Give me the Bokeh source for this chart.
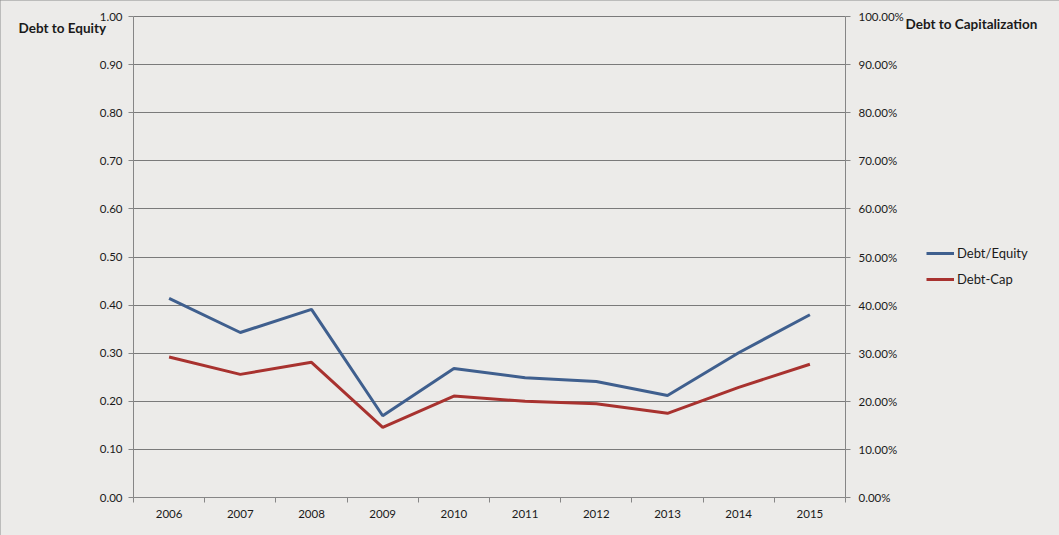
from bokeh.plotting import figure
from bokeh.models import (Range1d, LinearAxis, FixedTicker, NumeralTickFormatter,
                          Legend, LegendItem, Label)
from bokeh.embed import file_html
from bokeh.resources import INLINE

years = ["2006", "2007", "2008", "2009", "2010", "2011", "2012", "2013", "2014", "2015"]
debt_equity = [0.414, 0.343, 0.391, 0.170, 0.268, 0.249, 0.241, 0.212, 0.301, 0.380]
debt_cap = [0.292, 0.256, 0.281, 0.146, 0.211, 0.200, 0.195, 0.175, 0.229, 0.277]
left_ticks = [0.0, 0.1, 0.2, 0.3, 0.4, 0.5, 0.6, 0.7, 0.8, 0.9, 1.0]

BG = "#ECEBE9"
FONT = "Lato"
TXT = "#1a1a1a"
AX = "#868686"

W, H = 1059, 535
PLOT_L, PLOT_R = 133, 845          # pixel extent of the plotting area
PLOT_T, PLOT_B = 16, 497
n = len(years)
px_x = (PLOT_R - PLOT_L) / n
px_y = (PLOT_B - PLOT_T) / 1.0

xpos = [i + 0.5 for i in range(n)]
bounds = list(range(n + 1))

y_lo = -(H - PLOT_B) / px_y
y_hi = 1 + PLOT_T / px_y

p = figure(width=W, height=H,
           x_range=Range1d(-PLOT_L / px_x, n + (W - PLOT_R) / px_x),
           y_range=Range1d(y_lo, y_hi),
           output_backend="svg", toolbar_location=None,
           min_border_left=0, min_border_right=0, min_border_top=0, min_border_bottom=0,
           background_fill_color=BG, border_fill_color=BG)
p.outline_line_color = None
p.styles = {"outline": "2px solid #8c8c8c", "outline-offset": "-2px"}

# x axis
xa = p.xaxis[0]
xa.fixed_location = 0
xa.bounds = (0, n)
xa.ticker = FixedTicker(ticks=xpos, minor_ticks=bounds)
xa.major_label_overrides = {x: y for x, y in zip(xpos, years)}
xa.major_tick_out = 0
xa.major_tick_in = 0
xa.minor_tick_out = 5
xa.minor_tick_in = 0
xa.minor_tick_line_color = AX
xa.axis_line_color = AX
xa.major_label_standoff = 7
xa.major_label_text_font = FONT
xa.major_label_text_font_size = "11.5px"
xa.major_label_text_color = TXT
p.xgrid.grid_line_color = None

# left axis
ya = p.yaxis[0]
ya.fixed_location = 0
ya.bounds = (0, 1)
ya.ticker = FixedTicker(ticks=left_ticks)
ya.formatter = NumeralTickFormatter(format="0.00")
ya.major_tick_out = 5
ya.major_tick_in = 0
ya.minor_tick_line_color = None
ya.axis_line_color = AX
ya.major_tick_line_color = AX
ya.major_label_standoff = 6
ya.major_label_text_font = FONT
ya.major_label_text_font_size = "11.5px"
ya.major_label_text_color = TXT

p.ygrid.ticker = FixedTicker(ticks=left_ticks[1:])
p.ygrid.grid_line_color = "#7a7a7a"
p.ygrid.grid_line_width = 1
if "cross_bounds" in p.ygrid[0].properties():
    p.ygrid.cross_bounds = (0, n)

# right axis
p.extra_y_ranges = {"pct": Range1d(y_lo, y_hi)}
ra = LinearAxis(y_range_name="pct", ticker=FixedTicker(ticks=left_ticks),
                formatter=NumeralTickFormatter(format="0.00%"), fixed_location=n,
                bounds=(0, 1))
ra.major_tick_out = 5
ra.major_tick_in = 0
ra.minor_tick_line_color = None
ra.axis_line_color = AX
ra.major_tick_line_color = AX
ra.major_label_standoff = 8
ra.major_label_text_font = FONT
ra.major_label_text_font_size = "11.5px"
ra.major_label_text_color = TXT
p.add_layout(ra, "right")

r1 = p.line(xpos, debt_equity, line_color="#3F5F8E", line_width=3)
r2 = p.line(xpos, debt_cap, line_color="#A8322F", line_width=3, y_range_name="pct")

legend = Legend(items=[LegendItem(label="Debt/Equity", renderers=[r1]),
                       LegendItem(label="Debt-Cap", renderers=[r2])],
                location=(926, 246), orientation="vertical",
                background_fill_alpha=0, border_line_color=None,
                padding=0, margin=0, spacing=6, glyph_width=28, glyph_height=20,
                label_height=20, label_standoff=3,
                label_text_font=FONT, label_text_font_size="13px", label_text_color=TXT)
p.add_layout(legend, "center")

p.add_layout(Label(x=18, y=H - 27, x_units="screen", y_units="screen", text="Debt to Equity",
                   text_font=FONT, text_font_style="bold", text_font_size="13.5px",
                   text_color=TXT, text_baseline="middle"))
p.add_layout(Label(x=905, y=H - 23, x_units="screen", y_units="screen", text="Debt to Capitalization",
                   text_font=FONT, text_font_style="bold", text_font_size="13.5px",
                   text_color=TXT, text_baseline="middle"))

open("out.html", "w").write(file_html(p, INLINE))
